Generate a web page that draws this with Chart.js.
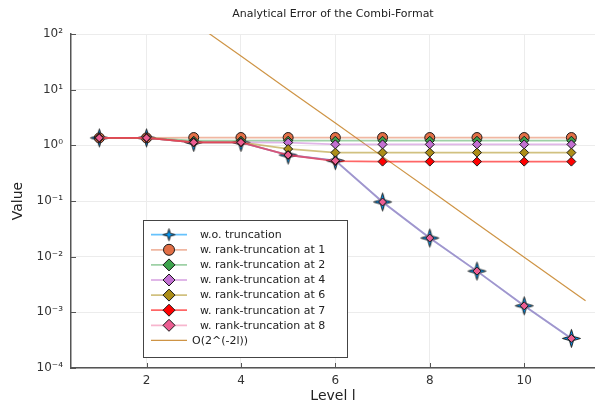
<!DOCTYPE html>
<html>
<head>
<meta charset="utf-8">
<script src="https://cdn.jsdelivr.net/npm/chart.js@4/dist/chart.umd.min.js"></script>
<style>
  html, body { margin: 0; padding: 0; background: #fff; }
  #wrap { width: 595px; height: 405px; }
</style>
</head>
<body>
<div id="wrap"><canvas id="errChart" width="595" height="405"></canvas></div>
<script>
// ── data ──
const levels = [1, 2, 3, 4, 5, 6, 7, 8, 9, 10, 11];
const woTrunc = [1.36, 1.36, 1.13, 1.13, 0.67, 0.53, 0.096, 0.0216, 0.0055, 0.00131, 0.00034];
const rank1 = [1.36, 1.36, 1.38, 1.38, 1.38, 1.38, 1.38, 1.38, 1.38, 1.38, 1.38];
const rank2 = [1.36, 1.36, 1.21, 1.21, 1.21, 1.21, 1.21, 1.21, 1.21, 1.21, 1.21];
const rank4 = [1.36, 1.36, 1.13, 1.13, 1.12, 1.04, 1.04, 1.04, 1.04, 1.04, 1.04];
const rank6 = [1.36, 1.36, 1.13, 1.13, 0.86, 0.74, 0.74, 0.74, 0.74, 0.74, 0.74];
const rank7 = [1.36, 1.36, 1.13, 1.13, 0.67, 0.52, 0.51, 0.51, 0.51, 0.51, 0.51];
const rank8 = [1.36, 1.36, 1.13, 1.13, 0.67, 0.53, 0.096, 0.0216, 0.0055, 0.00131, 0.00034];
const orderLevels = [1, 2, 3, 4, 5, 6, 7, 8, 9, 10, 11, 11.3];
const orderValues = [2565, 641, 160, 40.1, 10.0, 2.51, 0.627, 0.157, 0.0392, 0.0098, 0.00245, 0.00161];

const xTicks = [2, 4, 6, 8, 10];
const yTicks = [1e-4, 1e-3, 1e-2, 1e-1, 1, 10, 100];
const yTickLabels = ['10⁻⁴', '10⁻³', '10⁻²', '10⁻¹', '10⁰', '10¹', '10²'];

const pts = (xs, ys) => xs.map((x, i) => ({ x: x, y: ys[i] }));
const FONT = "'DejaVu Sans', sans-serif";

// 4-point star marker
function starMarker(R) {
  const c = document.createElement('canvas');
  const s = Math.ceil(R * 2 + 3);
  c.width = s; c.height = s;
  const g = c.getContext('2d');
  const cx = s / 2, cy = s / 2, r = R * 0.32;
  g.beginPath();
  for (let k = 0; k < 8; k++) {
    const a = -Math.PI / 2 + k * Math.PI / 4;
    const rr = k % 2 ? r : R;
    g.lineTo(cx + rr * Math.cos(a), cy + rr * Math.sin(a));
  }
  g.closePath();
  g.fillStyle = '#009AFA';
  g.fill();
  g.lineWidth = 1;
  g.strokeStyle = '#1a1a1a';
  g.stroke();
  return c;
}
const starBig = starMarker(9);
const starSmall = starMarker(6);

function series(label, xs, ys, color, lineColor, style, radius, order, legendStyle, legendRadius) {
  return {
    label: label,
    data: pts(xs, ys),
    borderColor: lineColor,
    backgroundColor: color,
    borderWidth: 1.8,
    pointStyle: style,
    pointRadius: radius,
    pointBackgroundColor: color,
    pointBorderColor: '#1a1a1a',
    pointBorderWidth: 1,
    order: order,
    legendStyle: legendStyle,
    legendRadius: legendRadius
  };
}

const datasets = [
  series('w.o. truncation', levels, woTrunc, '#009AFA', 'rgba(0,154,250,0.6)', starBig, 8, 9, starSmall, 6),
  series('w. rank-truncation at 1', levels, rank1, '#E26F46', 'rgba(226,111,70,0.5)', 'circle', 5, 8, 'circle', 5.5),
  series('w. rank-truncation at 2', levels, rank2, '#3DA44D', 'rgba(61,164,77,0.5)', 'rectRot', 4.5, 7, 'rectRot', 6),
  series('w. rank-truncation at 4', levels, rank4, '#C270D2', 'rgba(194,112,210,0.5)', 'rectRot', 4.5, 6, 'rectRot', 6),
  series('w. rank-truncation at 6', levels, rank6, '#AC8E18', 'rgba(172,142,24,0.55)', 'rectRot', 4.5, 5, 'rectRot', 6),
  series('w. rank-truncation at 7', levels, rank7, '#FF0000', 'rgba(255,0,0,0.6)', 'rectRot', 4.5, 4, 'rectRot', 6),
  series('w. rank-truncation at 8', levels, rank8, '#ED5D92', 'rgba(237,93,146,0.45)', 'rectRot', 4, 3, 'rectRot', 6),
  {
    label: 'O(2^(-2l))',
    data: pts(orderLevels, orderValues),
    borderColor: 'rgba(198,129,37,0.85)',
    borderWidth: 1.2,
    pointRadius: 0,
    order: 10,
    legendStyle: null
  }
];

// legend drawn inside the plot, like the reference
const innerLegend = {
  id: 'innerLegend',
  afterDraw(chart) {
    const ctx = chart.ctx;
    ctx.save();
    ctx.fillStyle = '#fff';
    ctx.strokeStyle = '#444';
    ctx.lineWidth = 1;
    ctx.fillRect(143.5, 220.5, 204, 137);
    ctx.strokeRect(143.5, 220.5, 204, 137);
    chart.data.datasets.forEach((ds, i) => {
      const y = 234.7 + i * 15.1;
      ctx.strokeStyle = ds.borderColor;
      ctx.lineWidth = ds.borderWidth;
      ctx.beginPath();
      ctx.moveTo(151, y);
      ctx.lineTo(187, y);
      ctx.stroke();
      if (ds.legendStyle) {
        ctx.fillStyle = ds.pointBackgroundColor;
        ctx.strokeStyle = '#1a1a1a';
        ctx.lineWidth = 1;
        Chart.helpers.drawPoint(ctx, {
          pointStyle: ds.legendStyle, radius: ds.legendRadius, rotation: 0, borderWidth: 1
        }, 169, y);
      }
      ctx.fillStyle = '#222';
      ctx.font = '11px ' + FONT;
      ctx.textBaseline = 'middle';
      ctx.textAlign = 'left';
      ctx.fillText(ds.label, ds.legendStyle ? 200 : 192, y + 0.5);
    });
    ctx.restore();
  }
};

// inward tick marks
const innerTicks = {
  id: 'innerTicks',
  afterDatasetsDraw(chart) {
    const ctx = chart.ctx, a = chart.chartArea;
    const xs = chart.scales.x, ys = chart.scales.y;
    ctx.save();
    ctx.strokeStyle = '#555';
    ctx.lineWidth = 1;
    ctx.beginPath();
    xs.ticks.forEach(t => { const p = Math.round(xs.getPixelForValue(t.value)) + 0.5; ctx.moveTo(p, a.bottom); ctx.lineTo(p, a.bottom - 5); });
    ys.ticks.forEach(t => { const p = Math.round(ys.getPixelForValue(t.value)) + 0.5; ctx.moveTo(a.left, p); ctx.lineTo(a.left + 5, p); });
    ctx.stroke();
    ctx.restore();
  }
};

new Chart(document.getElementById('errChart'), {
  type: 'line',
  data: { datasets: datasets },
  plugins: [innerTicks, innerLegend],
  options: {
    responsive: false,
    animation: false,
    layout: { padding: 0, autoPadding: false },
    plugins: {
      legend: { display: false },
      tooltip: { enabled: false },
      title: {
        display: true,
        text: 'Analytical Error of the Combi-Format',
        fullSize: false,
        color: '#222',
        font: { family: FONT, size: 11, weight: 'normal', lineHeight: 1.2 },
        padding: { top: 8, bottom: 12.8 }
      }
    },
    scales: {
      x: {
        type: 'linear',
        min: 0.4,
        max: 11.5,
        afterBuildTicks: s => { s.ticks = xTicks.map(v => ({ value: v })); },
        afterFit: s => { s.height = 37; s.paddingRight = 0; s.paddingLeft = 0; },
        grid: { color: '#ececec', lineWidth: 1, drawTicks: false },
        border: { display: true, color: '#555', width: 1.5 },
        ticks: { color: '#333', padding: 6, autoSkip: false, maxRotation: 0, font: { family: FONT, size: 12 } },
        title: { display: true, text: 'Level l', color: '#222', font: { family: FONT, size: 14 }, padding: { top: 0, bottom: 0 } }
      },
      y: {
        type: 'logarithmic',
        min: 1e-4,
        max: 100,
        afterBuildTicks: s => { s.ticks = yTicks.map(v => ({ value: v })); },
        afterFit: s => { s.width = 71; },
        grid: { color: '#ececec', lineWidth: 1, drawTicks: false },
        border: { display: true, color: '#555', width: 1.5 },
        ticks: {
          color: '#333', padding: 8, autoSkip: false,
          font: { family: FONT, size: 12 },
          callback: (v, i) => yTickLabels[i]
        },
        title: { display: true, text: 'Value', color: '#222', font: { family: FONT, size: 14 }, padding: { top: 10, bottom: 0 } }
      }
    }
  }
});
</script>
</body>
</html>
